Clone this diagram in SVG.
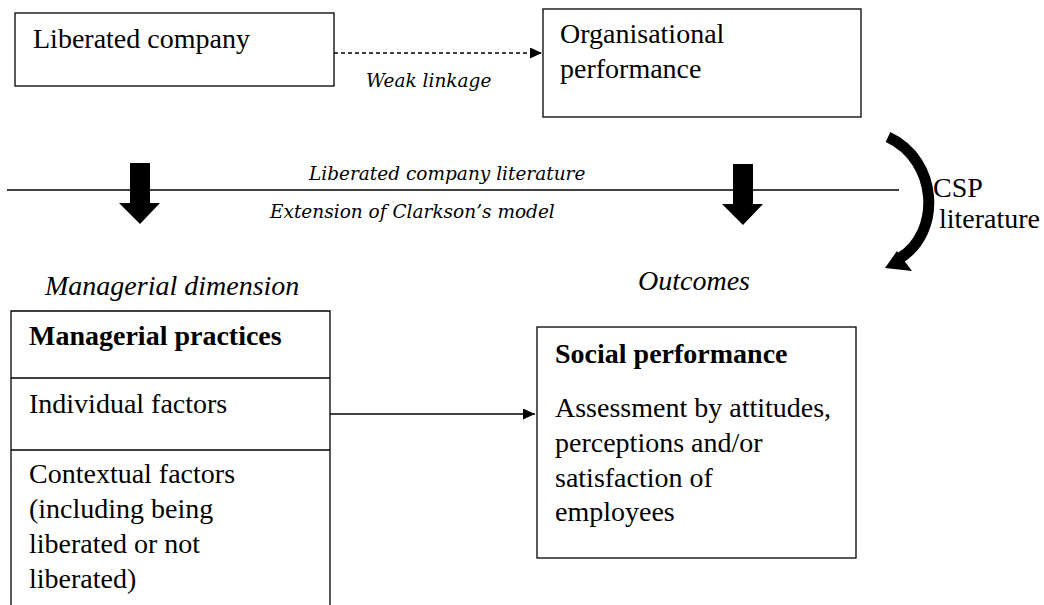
<svg xmlns="http://www.w3.org/2000/svg" width="1044" height="605" viewBox="0 0 1044 605">
<style>
.box{fill:#fff;stroke:#000;stroke-width:1.3}
.t{font-family:"Liberation Serif","Times New Roman",serif;font-size:28px;fill:#000}
.b{font-weight:bold}
.i{font-style:italic}
.s{font-family:"DejaVu Serif",serif;font-style:italic;font-size:18.5px;fill:#000}
.ln{stroke:#000;stroke-width:1.3;fill:none}
</style>
<defs>
<marker id="ah" markerWidth="12" markerHeight="11" refX="12" refY="5.5" orient="auto" markerUnits="userSpaceOnUse">
<path d="M0,0 L12,5.5 L0,11 Z" fill="#000"/>
</marker>
</defs>
<rect width="1044" height="605" fill="#fff"/>
<g id="connectors">
<line class="ln" x1="334" y1="53" x2="542" y2="53" stroke-dasharray="4,3" marker-end="url(#ah)"/>
<line class="ln" x1="7" y1="190" x2="899" y2="190"/>
<line class="ln" x1="330" y1="414" x2="535" y2="414" marker-end="url(#ah)"/>
<path d="M130,163 H150 V203 H160 L140,224 L119,203 H130 Z" fill="#000"/>
<path d="M733,164 H753 V204 H763 L743,225 L722,204 H733 Z" fill="#000"/>
<path d="M888,137 C938,160 942,232 900,258" fill="none" stroke="#000" stroke-width="11"/>
<path d="M885,268 L897,251 L912,271 Z" fill="#000"/>
<text class="s" x="366" y="87">Weak linkage</text>
<text class="s" x="309" y="180">Liberated company literature</text>
<text class="s" x="270" y="218">Extension of Clarkson’s model</text>
<text class="t" x="933" y="197">CSP</text>
<text class="t" x="939" y="228">literature</text>
</g>
<g id="liberated-company">
<rect class="box" x="15" y="13" width="319" height="73"/>
<text class="t" x="33" y="48">Liberated company</text>
</g>
<g id="organisational-performance">
<rect class="box" x="543" y="9" width="318" height="108"/>
<text class="t" x="560" y="43">Organisational</text>
<text class="t" x="560" y="78">performance</text>
</g>
<g id="managerial-dimension">
<text class="t i" x="45" y="295">Managerial dimension</text>
<path class="ln" d="M11,606 V311 H330 V606 M11,378 H330 M11,450 H330"/>
<text class="t b" x="29" y="345">Managerial practices</text>
<text class="t" x="29" y="413">Individual factors</text>
<text class="t" x="29" y="483">Contextual factors</text>
<text class="t" x="29" y="518">(including being</text>
<text class="t" x="29" y="553">liberated or not</text>
<text class="t" x="29" y="588">liberated)</text>
</g>
<g id="outcomes">
<text class="t i" x="638" y="290">Outcomes</text>
<rect class="box" x="537" y="327" width="319" height="231"/>
<text class="t b" x="555" y="363">Social performance</text>
<text class="t" x="555" y="417">Assessment by attitudes,</text>
<text class="t" x="555" y="452">perceptions and/or</text>
<text class="t" x="555" y="487">satisfaction of</text>
<text class="t" x="555" y="521">employees</text>
</g>
</svg>
